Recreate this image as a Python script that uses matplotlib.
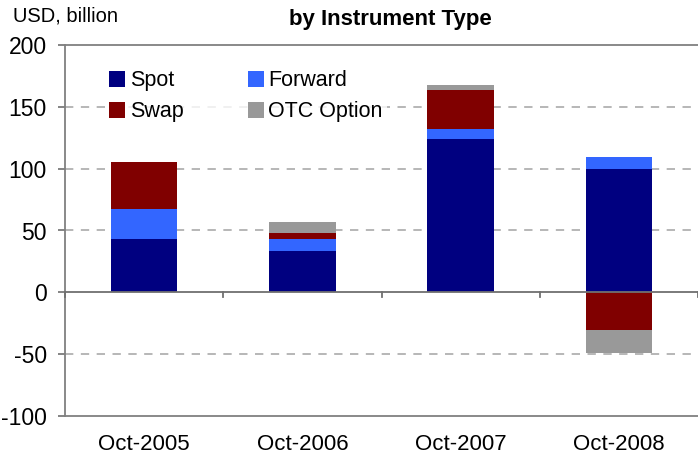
import matplotlib
matplotlib.use("Agg")
import matplotlib.pyplot as plt
import numpy as np

categories = ["Oct-2005", "Oct-2006", "Oct-2007", "Oct-2008"]
spot = [43, 33.5, 124, 100]
forward = [24, 9.5, 8, 9.5]
swap = [38, 5, 32, -30.5]
option = [0, 9, 3.3, -18.5]
series_names = ["Spot", "Forward", "Swap", "OTC Option"]
colors = ["#000080", "#3366FF", "#800000", "#999999"]
yticks = [-100, -50, 0, 50, 100, 150, 200]

plt.rcParams['font.family'] = ['Liberation Sans', 'DejaVu Sans']

fig = plt.figure(figsize=(6.98, 4.61), dpi=100)
ax = fig.add_axes([65/698, 1-416/461, 1-65/698, (416-45)/461])

x = np.arange(len(categories))
pos_bottom = np.zeros(len(categories))
neg_bottom = np.zeros(len(categories))
handles = {}
for name, vals, c in zip(series_names, [spot, forward, swap, option], colors):
    vals = np.array(vals, dtype=float)
    bottoms = np.where(vals >= 0, pos_bottom, neg_bottom)
    b = ax.bar(x, vals, bottom=bottoms, width=0.42, color=c, label=name, zorder=3, linewidth=0)
    handles[name] = b
    pos_bottom += np.where(vals >= 0, vals, 0)
    neg_bottom += np.where(vals < 0, vals, 0)

ax.set_xlim(-0.5, len(categories) - 0.5)
ax.set_ylim(-100, 200)
ax.set_yticks(yticks)
ax.set_yticklabels([str(t) for t in yticks], fontsize=16.5)
for t in [-50, 50, 100, 150]:
    ax.axhline(t, color="#aaaaaa", linestyle=(0, (5, 4.5)), linewidth=1.2, zorder=1)

# zero axis line with ticks between categories
ax.axhline(0, color="#707070", linewidth=1.3, zorder=4)
for b in np.arange(-0.5, len(categories), 1.0):
    ax.plot([b, b], [0, -4], color="#707070", linewidth=1.3, zorder=4, clip_on=False)

ax.set_xticks(x)
ax.set_xticklabels(categories, fontsize=16)
ax.tick_params(axis='x', length=0, pad=13)
ax.tick_params(axis='y', length=5, width=1.2, color="#707070", pad=8)

for s in ["left", "top", "bottom"]:
    ax.spines[s].set_color("#808080")
    ax.spines[s].set_linewidth(1.3)
ax.spines["right"].set_visible(False)

order = ["Spot", "Swap", "Forward", "OTC Option"]
leg = ax.legend([handles[n] for n in order], order, ncol=2, loc="upper left",
                bbox_to_anchor=(0.046, 0.972), frameon=True, fontsize=15.5,
                handlelength=0.75, handleheight=0.75, handletextpad=0.2,
                columnspacing=3.0, labelspacing=0.45, borderpad=0.2)
leg.get_frame().set_facecolor("white")
leg.get_frame().set_edgecolor("none")
leg.set_zorder(5)

fig.text(13/698, 1-16/461, "USD, billion", fontsize=14.5, ha="left", va="center")
fig.text(390/698, 1-20/461, "by Instrument Type", fontsize=16, fontweight="bold",
         ha="center", va="center")

fig.savefig("out.png", dpi=100)
